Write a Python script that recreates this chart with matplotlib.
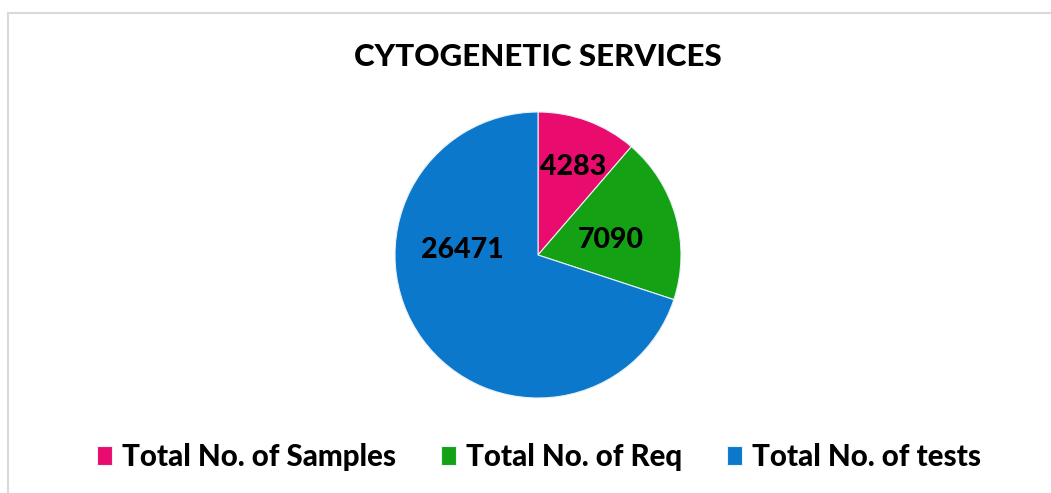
import matplotlib.pyplot as plt
from matplotlib.patches import Rectangle
import numpy as np

# data
labels = ["Total No. of Samples", "Total No. of Req", "Total No. of tests"]
values = [4283, 7090, 26471]
colors = ["#E90C6E", "#14A214", "#0B78CB"]
# label placement inside the pie (angle in degrees, radius as fraction)
label_pos = [(68, 0.66), (12, 0.52), (176, 0.53)]

plt.rcParams['font.family'] = ['Lato', 'DejaVu Sans']

fig = plt.figure(figsize=(10.51, 4.93), dpi=100)
W, H = 1051, 493

# light frame around the chart area
fig.patches.append(Rectangle((8 / W, -0.1), 1.2, 1 - 13 / H + 0.1,
                             transform=fig.transFigure, fill=False,
                             edgecolor="#d9d9d9", linewidth=1.5))

fig.text(538 / W, 1 - 57 / H, "CYTOGENETIC SERVICES", ha="center", va="center",
         fontsize=22.5, fontweight="black", color="black")

cx, cy, r = 538, 255, 143
ax = fig.add_axes([(cx - r) / W, (H - cy - r) / H, 2 * r / W, 2 * r / H])
wedges, _ = ax.pie(values, colors=colors, startangle=90, counterclock=False,
                   radius=1, wedgeprops=dict(edgecolor="#e8f0f8", linewidth=0.8))
ax.set_xlim(-1, 1)
ax.set_ylim(-1, 1)
ax.set_aspect("equal")
ax.axis("off")

for v, (ang, rr) in zip(values, label_pos):
    a = np.deg2rad(ang)
    ax.text(rr * np.cos(a), rr * np.sin(a), str(v), ha="center", va="center",
            fontsize=20.5, fontweight="black", color="black")

# legend along the bottom
leg = fig.legend(wedges, labels, loc="center", bbox_to_anchor=(539 / W, 1 - 457 / H),
                 ncol=3, frameon=False, handlelength=0.5, handleheight=0.65,
                 handletextpad=0.35, columnspacing=1.52,
                 prop=dict(size=21.25, weight="black"))

fig.savefig("out.png", dpi=100)
